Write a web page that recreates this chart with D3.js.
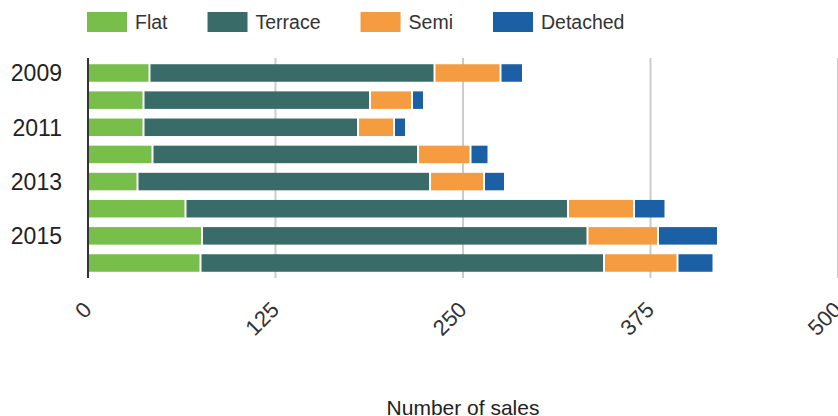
<!DOCTYPE html>
<html>
<head>
<meta charset="utf-8">
<script src="https://cdn.jsdelivr.net/npm/d3@7"></script>
<style>
  body { margin: 0; background: #fff; }
  svg { display: block; font-family: Arial, "Liberation Sans", sans-serif; font-variant-numeric: tabular-nums; }
</style>
</head>
<body>
<div class="bar-chart"></div>
<script>
// ---- data
var years    = [2009, 2010, 2011, 2012, 2013, 2014, 2015, 2016];
var flat     = [41, 37, 37, 43, 33, 65, 76, 75];
var terrace  = [190, 151, 143, 177, 195, 255, 257, 269];
var semi     = [44, 28, 24, 35, 36, 44, 47, 49];
var detached = [15, 8, 8, 12, 14, 21, 40, 24];
var seriesNames = ["Flat", "Terrace", "Semi", "Detached"];
var xTicks = [0, 125, 250, 375, 500];
var yLabels = [2009, 2011, 2013, 2015];

var colors = ["#78be4a", "#396b68", "#f69c40", "#1b5fa5"];

// build rows for the stack
var rows = years.map(function(y, i) {
    return {year: y, Flat: flat[i], Terrace: terrace[i], Semi: semi[i], Detached: detached[i]};
});

var width = 838, height = 416;
var margin = {top: 58, right: 0, bottom: 138, left: 88};

var svg = d3.select(".bar-chart")
    .append("svg")
        .attr("width", width)
        .attr("height", height);

var x = d3.scaleLinear()
    .domain([0, 500])
    .range([margin.left, width - margin.right]);

var y = d3.scaleBand()
    .domain(years)
    .range([margin.top, height - margin.bottom])
    .paddingInner(0.355)
    .paddingOuter(0.23);

// ---- gridlines
svg.append("g")
    .selectAll("line")
    .data(xTicks.slice(1))
    .enter()
    .append("line")
        .attr("x1", function(d) { return x(d); })
        .attr("x2", function(d) { return x(d); })
        .attr("y1", margin.top)
        .attr("y2", height - margin.bottom)
        .attr("stroke", "#cccccc")
        .attr("stroke-width", 2);

// ---- stacked bars
var stack = d3.stack().keys(seriesNames);
var layers = stack(rows);

svg.append("g")
    .selectAll("g")
    .data(layers)
    .enter()
    .append("g")
        .attr("fill", function(d, i) { return colors[i]; })
    .selectAll("rect")
    .data(function(d) { return d; })
    .enter()
    .append("rect")
        .attr("x", function(d) { return x(d[0]) + 1; })
        .attr("y", function(d) { return y(d.data.year); })
        .attr("width", function(d) { return Math.max(0, x(d[1]) - x(d[0]) - 2); })
        .attr("height", y.bandwidth());

// ---- y axis line
svg.append("line")
    .attr("x1", x(0)).attr("x2", x(0))
    .attr("y1", margin.top).attr("y2", height - margin.bottom)
    .attr("stroke", "#333")
    .attr("stroke-width", 2);

// ---- y labels (every other year)
svg.append("g")
    .selectAll("text")
    .data(yLabels)
    .enter()
    .append("text")
        .attr("x", x(0) - 26)
        .attr("y", function(d) { return y(d) + y.bandwidth() / 2; })
        .attr("dy", "0.36em")
        .attr("text-anchor", "end")
        .attr("font-size", "23px")
        .attr("fill", "#222")
        .text(function(d) { return d; });

// ---- x tick labels, rotated
svg.append("g")
    .selectAll("text")
    .data(xTicks)
    .enter()
    .append("text")
        .attr("transform", function(d) { return "translate(" + (x(d) + 5) + ",311)rotate(-45)"; })
        .attr("text-anchor", "end")
        .attr("font-size", "22px")
        .attr("fill", "#333")
        .text(function(d) { return d; });

// ---- x axis title
svg.append("text")
    .attr("x", (x(0) + x(500)) / 2)
    .attr("y", 415)
    .attr("text-anchor", "middle")
    .attr("font-size", "21px")
    .attr("fill", "#222")
    .text("Number of sales");

// ---- legend
var legend = svg.append("g");
var lx = 87;
seriesNames.forEach(function(name, i) {
    legend.append("rect")
        .attr("x", lx).attr("y", 12)
        .attr("width", 40).attr("height", 20)
        .attr("fill", colors[i]);
    var t = legend.append("text")
        .attr("x", lx + 48).attr("y", 29)
        .attr("font-size", "19.5px")
        .attr("fill", "#333")
        .text(name);
    lx += 48 + t.node().getComputedTextLength() + 40;
});
</script>
</body>
</html>
